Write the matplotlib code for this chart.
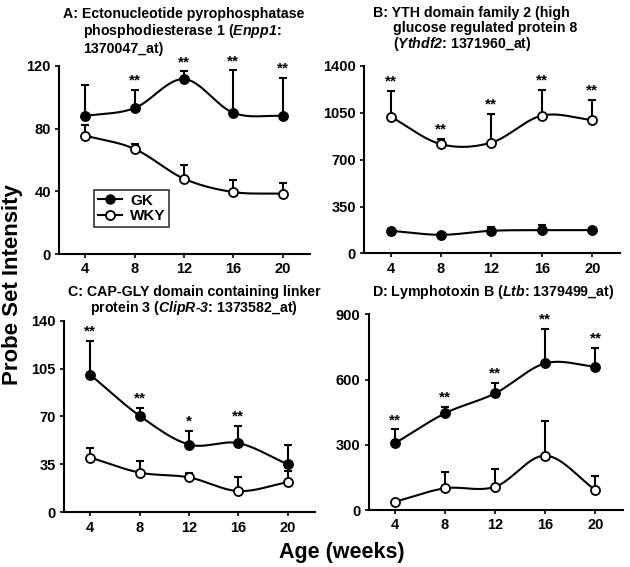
"""Probe set intensity vs age for four genes, GK vs WKY rats."""

import matplotlib

matplotlib.use("Agg")
import matplotlib.pyplot as plt
import numpy as np
from matplotlib.lines import Line2D

plt.rcParams["font.family"] = ["Liberation Sans", "DejaVu Sans"]
plt.rcParams["font.weight"] = "bold"
plt.rcParams["mathtext.fontset"] = "custom"
plt.rcParams["mathtext.it"] = "Liberation Sans:italic:bold"
plt.rcParams["mathtext.rm"] = "Liberation Sans:italic:bold"

ages = [4, 8, 12, 16, 20]

# A: Enpp1
a_gk = [88, 93, 111.5, 90, 88]
a_gk_err = [20, 11.5, 5, 27, 24.5]
a_wky = [75.5, 67, 48, 39.5, 38.5]
a_wky_err = [6.5, 3, 8.5, 8, 6.5]
a_stars = ["", "**", "**", "**", "**"]

# B: Ythdf2
b_gk = [169, 139, 169, 174, 174]
b_gk_err = [8, 8, 30, 38, 8]
b_wky = [1021, 815, 827, 1028, 996]
b_wky_err = [194, 39, 214, 192, 150]
b_stars = ["**", "**", "**", "**", "**"]

# C: ClipR-3
c_gk = [100.5, 70.5, 49.5, 50.5, 35]
c_gk_err = [24.5, 6, 10, 12.5, 14.5]
c_wky = [40, 29, 25.5, 15.5, 22]
c_wky_err = [7, 8.5, 3.5, 10, 8]
c_stars = ["**", "**", "*", "**", ""]

# D: Ltb
d_gk = [307, 445, 537, 675, 660]
d_gk_err = [64, 30, 49, 159, 87]
d_wky = [38, 100, 107, 250, 92]
d_wky_err = [5, 76, 80, 161, 64]
d_stars = ["**", "**", "**", "**", "**"]


def smooth(x, y, n=40):
    """Catmull-Rom style cubic through the points, for the drawn curve only."""
    x = np.asarray(x, float)
    y = np.asarray(y, float)
    m = np.gradient(y, x)
    xs, ys = [], []
    for i in range(len(x) - 1):
        h = x[i + 1] - x[i]
        t = np.linspace(0, 1, n)
        h00 = 2 * t**3 - 3 * t**2 + 1
        h10 = t**3 - 2 * t**2 + t
        h01 = -2 * t**3 + 3 * t**2
        h11 = t**3 - t**2
        xs.append(x[i] + t * h)
        ys.append(h00 * y[i] + h10 * h * m[i] + h01 * y[i + 1] + h11 * h * m[i + 1])
    return np.concatenate(xs), np.concatenate(ys)


def draw_series(ax, y, err, filled):
    sx, sy = smooth(ages, y)
    ax.plot(sx, sy, color="black", lw=1.5, zorder=2)
    ax.errorbar(ages, y, yerr=[np.zeros(len(err)), err], fmt="none",
                ecolor="black", elinewidth=1.5, capsize=3, capthick=1.5, zorder=1)
    ax.plot(ages, y, linestyle="none", marker="o", markersize=6.5,
            markerfacecolor="black" if filled else "white",
            markeredgecolor="black", markeredgewidth=1.3, zorder=3)


def style_axes(ax, ymax, step):
    ax.set_xlim(1.9, 22.2)
    ax.set_ylim(0, ymax)
    ax.set_xticks(ages)
    ax.set_yticks(np.arange(0, ymax + 1, step))
    ax.spines["top"].set_visible(False)
    ax.spines["right"].set_visible(False)
    for s in ("left", "bottom"):
        ax.spines[s].set_linewidth(1.5)
    ax.tick_params(direction="out", length=3, width=1.2, labelsize=10.5, pad=3)
    for lbl in ax.get_xticklabels() + ax.get_yticklabels():
        lbl.set_fontweight("bold")


def add_stars(ax, y, err, stars, ymax):
    for x, v, e, s in zip(ages, y, err, stars):
        if s:
            ax.text(x, v + e + ymax * 0.012, s, ha="center", va="bottom",
                    fontsize=11, fontweight="bold")


fig = plt.figure(figsize=(6.3, 5.67), dpi=100)

panels = [
    ([0.094, 0.552, 0.398, 0.332], a_gk, a_gk_err, a_wky, a_wky_err, a_stars, "gk", 120, 40),
    ([0.578, 0.553, 0.406, 0.331], b_gk, b_gk_err, b_wky, b_wky_err, b_stars, "wky", 1400, 350),
    ([0.102, 0.0965, 0.398, 0.338], c_gk, c_gk_err, c_wky, c_wky_err, c_stars, "gk", 140, 35),
    ([0.585, 0.1005, 0.404, 0.345], d_gk, d_gk_err, d_wky, d_wky_err, d_stars, "gk", 900, 300),
]

axes = []
for rect, gk, gk_err, wky, wky_err, stars, star_on, ymax, step in panels:
    ax = fig.add_axes(rect)
    draw_series(ax, gk, gk_err, True)
    draw_series(ax, wky, wky_err, False)
    if star_on == "gk":
        add_stars(ax, gk, gk_err, stars, ymax)
    else:
        add_stars(ax, wky, wky_err, stars, ymax)
    style_axes(ax, ymax, step)
    axes.append(ax)

# legend in panel A, markers with a short line through them
handles = [
    Line2D([], [], color="black", lw=1.5, marker="o", markersize=6.5,
           markerfacecolor="black", markeredgecolor="black"),
    Line2D([], [], color="black", lw=1.5, marker="o", markersize=6.5,
           markerfacecolor="white", markeredgecolor="black", markeredgewidth=1.3),
]
leg = axes[0].legend(handles, ["GK", "WKY"], loc="lower left",
                     bbox_to_anchor=(0.139, 0.144), borderaxespad=0,
                     frameon=True, fancybox=False, edgecolor="black",
                     prop={"weight": "bold", "size": 11}, handlelength=1.6,
                     handletextpad=0.5, borderpad=0.25, labelspacing=0.1)
leg.get_frame().set_linewidth(1.2)

# titles with hanging indent
tfs = 10.2
title_lines = [
    (63, 14, "A: Ectonucleotide pyrophosphatase"),
    (83, 31, r"phosphodiesterase 1 ($Enpp1$:"),
    (83, 49, "1370047_at)"),
    (373, 13, "B: YTH domain family 2 (high"),
    (393, 28, "glucose regulated protein 8"),
    (393, 44, r"($Ythdf2$: 1371960_at)"),
    (68, 292, "C: CAP-GLY domain containing linker"),
    (90, 308, r"protein 3 ($ClipR$-$3$: 1373582_at)"),
    (372, 292, r"D: Lymphotoxin B ($Ltb$: 1379499_at)"),
]
for px, py, txt in title_lines:
    fig.text(px / 630, 1 - py / 567, txt, ha="left", va="center",
             fontsize=tfs, fontweight="bold")

fig.text(0.02, 0.499, "Probe Set Intensity", rotation=90, ha="center",
         va="center", fontsize=16, fontweight="bold")
fig.text(0.543, 0.026, "Age (weeks)", ha="center", va="center",
         fontsize=15.5, fontweight="bold")

fig.savefig("out.png", dpi=100)
plt.close(fig)
